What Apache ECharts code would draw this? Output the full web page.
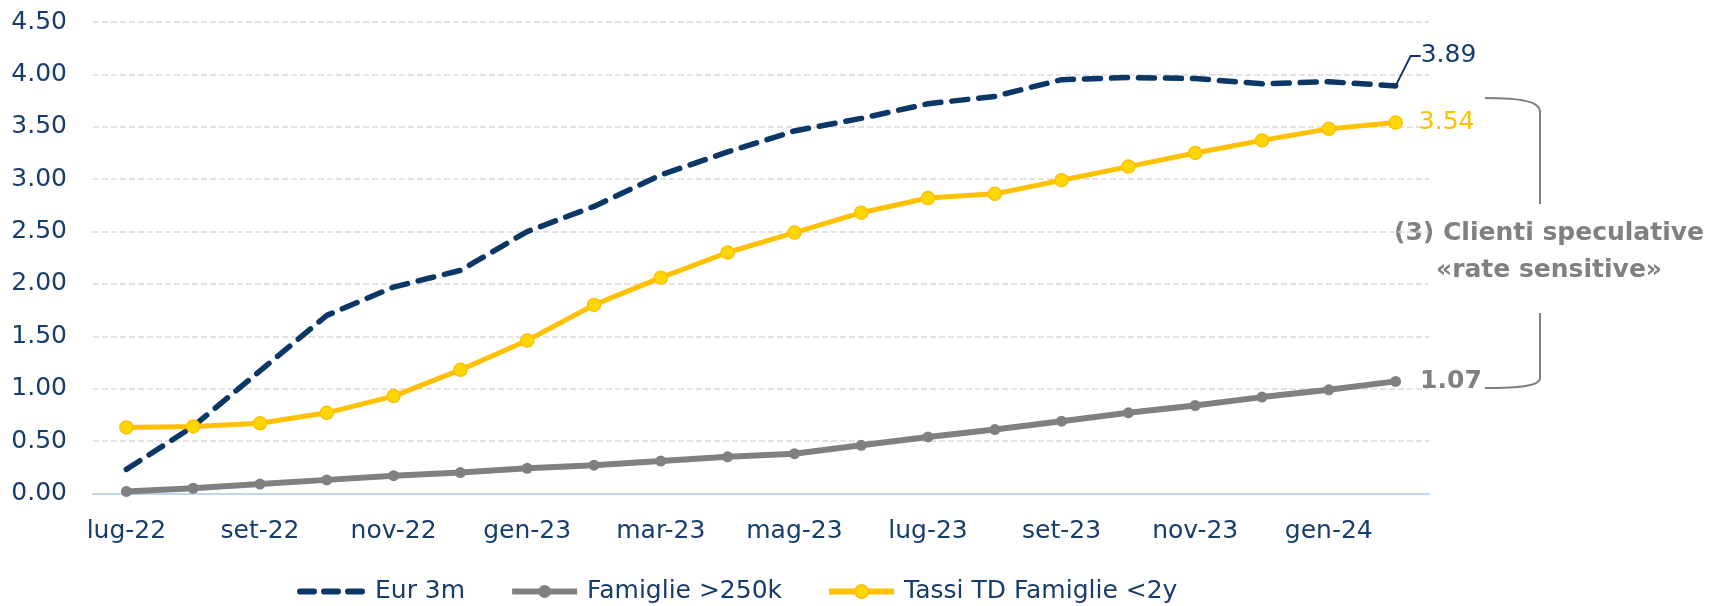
<!DOCTYPE html>
<html>
<head>
<meta charset="utf-8">
<script src="https://cdn.jsdelivr.net/npm/echarts@6/dist/echarts.min.js"></script>
<style>
  html, body { margin: 0; padding: 0; background: #fff; }
  #chart { width: 1718px; height: 606px; }
</style>
</head>
<body>
<div id="chart"></div>
<script>
  // mesi (asse x)
  const months = ['lug-22', 'ago-22', 'set-22', 'ott-22', 'nov-22', 'dic-22',
    'gen-23', 'feb-23', 'mar-23', 'apr-23', 'mag-23', 'giu-23',
    'lug-23', 'ago-23', 'set-23', 'ott-23', 'nov-23', 'dic-23',
    'gen-24', 'feb-24']

  // Eur 3m
  const eur3m = [0.23, 0.64, 1.17, 1.70, 1.97, 2.13, 2.50, 2.74, 3.04, 3.26,
    3.46, 3.58, 3.72, 3.79, 3.95, 3.97, 3.96, 3.91, 3.93, 3.89]

  // Famiglie >250k
  const famiglie250k = [0.02, 0.05, 0.09, 0.13, 0.17, 0.20, 0.24, 0.27, 0.31, 0.35,
    0.38, 0.46, 0.54, 0.61, 0.69, 0.77, 0.84, 0.92, 0.99, 1.07]

  // Tassi TD Famiglie <2y
  const tassiTD = [0.63, 0.64, 0.67, 0.77, 0.93, 1.18, 1.46, 1.80, 2.06, 2.30,
    2.49, 2.68, 2.82, 2.86, 2.99, 3.12, 3.25, 3.37, 3.48, 3.54]

  const navy = '#163d6b'
  const font = 'DejaVu Sans'
  const fs = 25
  const bracket = { fill: 'none', stroke: '#7f7f7f', lineWidth: 2 }

  // ultimo punto con etichetta
  const lastLabel = (arr, label) =>
    arr.map((v, i) => (i === arr.length - 1 ? { value: v, label: Object.assign({ show: true }, label) } : v))

  const myChart = echarts.init(document.getElementById('chart'))

  const option = {
    animation: false,
    textStyle: { fontFamily: font },
    grid: {
      left: 93,
      right: 289,
      top: 22,
      bottom: 112.5
    },
    legend: {
      left: 292,
      top: 574,
      itemWidth: 65,
      itemHeight: 16,
      itemGap: 44,
      textStyle: { fontSize: fs, color: navy, fontFamily: font, padding: [0, 0, 0, 5] },
      data: [
        { name: 'Eur 3m', itemStyle: { opacity: 0 }, lineStyle: { width: 6, type: [14, 10], cap: 'round' } },
        { name: 'Famiglie >250k', lineStyle: { width: 6 } },
        { name: 'Tassi TD Famiglie <2y', lineStyle: { width: 6 } }
      ]
    },
    xAxis: {
      type: 'category',
      boundaryGap: true,
      data: months,
      axisLine: { lineStyle: { color: '#bdd7ee', width: 2 } },
      axisTick: { interval: 1, length: 8, lineStyle: { color: '#bdd7ee', width: 2 } },
      axisLabel: { interval: 1, fontSize: fs, color: navy, margin: 25, fontFamily: font }
    },
    yAxis: {
      type: 'value',
      min: 0,
      max: 4.5,
      interval: 0.5,
      axisLine: { show: false },
      axisTick: { show: false },
      axisLabel: {
        fontSize: fs,
        color: navy,
        margin: 26,
        fontFamily: font,
        formatter: (v) => v.toFixed(2)
      },
      splitLine: { lineStyle: { color: '#d9d9d9', type: [6, 3], width: 1.5 } }
    },
    series: [
      {
        name: 'Eur 3m',
        type: 'line',
        symbol: 'circle',
        symbolSize: 0.1,
        showSymbol: true,
        z: 2,
        lineStyle: { color: '#0b3766', width: 5.5, type: [16, 11], cap: 'round' },
        itemStyle: { color: '#0b3766' },
        data: lastLabel(eur3m, {
          position: 'right',
          distance: 5,
          fontSize: fs,
          color: navy,
          fontFamily: font,
          formatter: (p) => p.value.toFixed(2)
        }),
        labelLayout: { dx: 20, dy: -30 },
        labelLine: { show: true, length2: 10, lineStyle: { color: '#0b3766', width: 2 } }
      },
      {
        name: 'Famiglie >250k',
        type: 'line',
        symbol: 'circle',
        symbolSize: 11,
        z: 3,
        lineStyle: { color: '#808080', width: 6 },
        itemStyle: { color: '#808080' },
        data: lastLabel(famiglie250k, {
          position: 'right',
          distance: 19,
          fontSize: fs,
          fontWeight: 'bold',
          color: '#808080',
          fontFamily: font,
          formatter: (p) => p.value.toFixed(2)
        })
      },
      {
        name: 'Tassi TD Famiglie <2y',
        type: 'line',
        symbol: 'circle',
        symbolSize: 13,
        z: 4,
        lineStyle: { color: '#ffc000', width: 5 },
        itemStyle: { color: '#ffd700', borderColor: '#ffc000', borderWidth: 1.5 },
        data: lastLabel(tassiTD, {
          position: 'right',
          distance: 16,
          fontSize: fs,
          color: '#ffc000',
          fontFamily: font,
          formatter: (p) => p.value.toFixed(2)
        })
      }
    ],
    graphic: [
      // parentesi di annotazione
      {
        type: 'bezierCurve',
        shape: { x1: 1485, y1: 98, cpx1: 1520, cpy1: 98, cpx2: 1540, cpy2: 101, x2: 1540, y2: 112 },
        style: bracket
      },
      {
        type: 'line',
        shape: { x1: 1540, y1: 112, x2: 1540, y2: 204 },
        style: bracket
      },
      {
        type: 'line',
        shape: { x1: 1540, y1: 313, x2: 1540, y2: 378 },
        style: bracket
      },
      {
        type: 'bezierCurve',
        shape: { x1: 1540, y1: 378, cpx1: 1540, cpy1: 386, cpx2: 1520, cpy2: 388, x2: 1485, y2: 388 },
        style: bracket
      },
      {
        type: 'text',
        x: 1549,
        y: 215,
        style: {
          text: '(3) Clienti speculative\n«rate sensitive»',
          align: 'center',
          verticalAlign: 'top',
          fontSize: fs,
          fontWeight: 'bold',
          lineHeight: 37,
          fill: '#808080',
          fontFamily: font
        }
      }
    ]
  }

  myChart.setOption(option)
</script>
</body>
</html>
